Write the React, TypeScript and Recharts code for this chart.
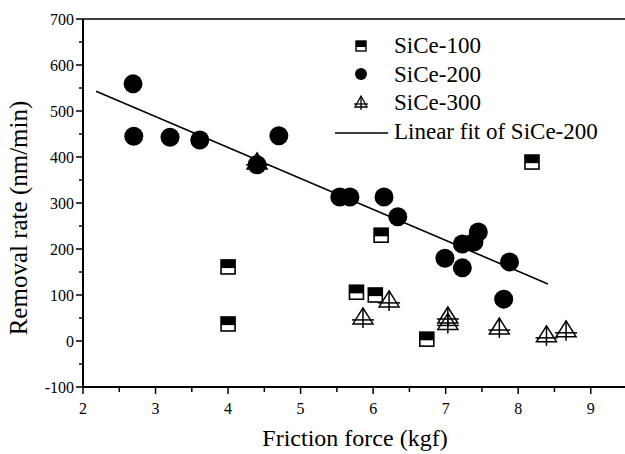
import React from 'react';
import { ScatterChart, Scatter, XAxis, YAxis, ReferenceLine, Legend, Label } from 'recharts';

const FONT = "'Liberation Serif', serif";
const TS = (size: number) => ({ fontFamily: FONT, fontSize: size });

// SiCe-100 (half-filled squares)
const sice100X = [4.0, 4.0, 5.77, 6.03, 6.11, 6.74, 8.19];
const sice100Y = [161, 37, 106, 100, 230, 4, 389];

// SiCe-200 (filled circles)
const sice200X = [2.69, 2.7, 3.2, 3.61, 4.4, 4.7, 5.54, 5.68, 6.15, 6.34, 6.99, 7.23, 7.23, 7.39, 7.45, 7.88, 7.8];
const sice200Y = [559, 445, 443, 437, 383, 446, 313, 313, 313, 270, 180, 159, 211, 215, 237, 172, 91];

// SiCe-300 (crossed triangles)
const sice300X = [4.4, 5.86, 6.22, 7.03, 7.03, 7.74, 8.39, 8.66];
const sice300Y = [385, 48, 85, 50, 36, 26, 9, 20];

// Linear fit of SiCe-200 (end points)
const fitX = [2.18, 8.41];
const fitY = [543, 124];

const xTicks = [2, 2.5, 3, 3.5, 4, 4.5, 5, 5.5, 6, 6.5, 7, 7.5, 8, 8.5, 9, 9.5];
const yTicks = [-100, -50, 0, 50, 100, 150, 200, 250, 300, 350, 400, 450, 500, 550, 600, 650, 700];

const legendNames = ['SiCe-100', 'SiCe-200', 'SiCe-300', 'Linear fit of SiCe-200'];

const toPts = (xs: number[], ys: number[]) => xs.map((x, i) => ({ x, y: ys[i] }));

const SquareShape = (props: any) => {
  const { cx, cy } = props;
  const s = 14;
  return (
    <g>
      <rect x={cx - s / 2} y={cy - s / 2} width={s} height={s} fill="#fff" stroke="#000" strokeWidth={1.6} />
      <rect x={cx - s / 2} y={cy - s / 2} width={s} height={s * 0.58} fill="#000" />
    </g>
  );
};

const CircleShape = (props: any) => {
  const { cx, cy } = props;
  return <circle cx={cx} cy={cy} r={9.5} fill="#000" />;
};

const TriShape = (props: any) => {
  const { cx, cy } = props;
  return (
    <g fill="none" stroke="#000" strokeWidth={1.5}>
      <path d={`M${cx},${cy - 11} L${cx + 10},${cy + 5} L${cx - 10},${cy + 5} Z`} />
      <line x1={cx} y1={cy - 11} x2={cx} y2={cy + 9} />
      <line x1={cx - 11} y1={cy + 1} x2={cx + 11} y2={cy + 1} />
    </g>
  );
};

const NoShape = () => <g />;

const XTick = (props: any) => {
  const { x, y, payload } = props;
  const v = payload.value;
  const major = Math.abs(v - Math.round(v)) < 1e-6;
  return (
    <g>
      <line x1={x} y1={y} x2={x} y2={y + (major ? 7 : 5)} stroke="#000" strokeWidth={1.5} />
      {major && (
        <text x={x} y={y + 27} textAnchor="middle" style={TS(16)} fill="#000">
          {v}
        </text>
      )}
    </g>
  );
};

const YTick = (props: any) => {
  const { x, y, payload } = props;
  const v = payload.value;
  const major = v % 100 === 0;
  return (
    <g>
      <line x1={x} y1={y} x2={x - (major ? 7 : 4)} y2={y} stroke="#000" strokeWidth={1.5} />
      {major && (
        <text x={x - 9} y={y + 5.5} textAnchor="end" style={TS(16)} fill="#000">
          {v}
        </text>
      )}
    </g>
  );
};

const LegendContent = () => {
  const ox = 320;
  const oy = 20;
  const sx = 361 - ox;
  const tx = 394 - ox;
  const centers = [46, 74, 103, 133].map((c) => c - oy);
  const bases = [53, 82, 110, 139].map((b) => b - oy);
  return (
    <svg width={300} height={130} style={{ overflow: 'visible', display: 'block' }}>
      <g>
        <rect x={sx - 5} y={centers[0] - 5} width={10} height={10} fill="#fff" stroke="#000" strokeWidth={1.4} />
        <rect x={sx - 5} y={centers[0] - 5} width={10} height={6} fill="#000" />
      </g>
      <circle cx={sx} cy={centers[1]} r={6} fill="#000" />
      <g fill="none" stroke="#000" strokeWidth={1.3}>
        <path d={`M${sx},${centers[2] - 7} L${sx + 6},${centers[2] + 4} L${sx - 6},${centers[2] + 4} Z`} />
        <line x1={sx} y1={centers[2] - 7} x2={sx} y2={centers[2] + 7} />
        <line x1={sx - 7} y1={centers[2] + 1} x2={sx + 7} y2={centers[2] + 1} />
      </g>
      <line x1={335 - ox} y1={centers[3]} x2={388 - ox} y2={centers[3]} stroke="#000" strokeWidth={1.5} />
      {legendNames.map((n, i) => (
        <text key={n} x={tx} y={bases[i]} style={TS(23)} fill="#000">
          {n}
        </text>
      ))}
    </svg>
  );
};

export default function App() {
  return (
    <div style={{ position: 'absolute', left: 0, top: 0, width: 625, height: 454, overflow: 'hidden', background: '#fff', fontFamily: FONT }}>
      <ScatterChart width={627} height={454} margin={{ top: 19, right: 0, bottom: 0, left: 0 }} style={{ fontFamily: FONT }}>
        <XAxis
          type="number"
          dataKey="x"
          domain={[2, 9.5]}
          ticks={xTicks}
          interval={0}
          allowDataOverflow
          height={67}
          tickSize={0}
          tickMargin={0}
          tickLine={false}
          tick={<XTick />}
          axisLine={{ stroke: '#000', strokeWidth: 2 }}
        >
          <Label
            content={() => (
              <text x={355} y={446} textAnchor="middle" style={TS(24)} fill="#000">
                Friction force (kgf)
              </text>
            )}
          />
        </XAxis>
        <YAxis
          type="number"
          dataKey="y"
          domain={[-100, 700]}
          ticks={yTicks}
          interval={0}
          allowDataOverflow
          width={83}
          tickSize={0}
          tickMargin={0}
          tickLine={false}
          tick={<YTick />}
          axisLine={{ stroke: '#000', strokeWidth: 2 }}
        >
          <Label
            content={() => (
              <text
                x={27}
                y={218}
                transform="rotate(-90 27 218)"
                textAnchor="middle"
                style={TS(25)}
                fill="#000"
              >
                Removal rate (nm/min)
              </text>
            )}
          />
        </YAxis>
        <ReferenceLine y={700} stroke="#000" strokeWidth={1.5} />
        <Legend
          layout="vertical"
          align="center"
          verticalAlign="middle"
          content={<LegendContent />}
          wrapperStyle={{ position: 'absolute', left: 320, top: 20, width: 300, height: 130 }}
        />
        <Scatter
          name="Linear fit of SiCe-200"
          data={toPts(fitX, fitY)}
          line={{ stroke: '#000', strokeWidth: 1.6 }}
          shape={<NoShape />}
          isAnimationActive={false}
        />
        <Scatter name="SiCe-200" data={toPts(sice200X, sice200Y)} shape={<CircleShape />} isAnimationActive={false} />
        <Scatter name="SiCe-100" data={toPts(sice100X, sice100Y)} shape={<SquareShape />} isAnimationActive={false} />
        <Scatter name="SiCe-300" data={toPts(sice300X, sice300Y)} shape={<TriShape />} isAnimationActive={false} />
      </ScatterChart>
    </div>
  );
}
